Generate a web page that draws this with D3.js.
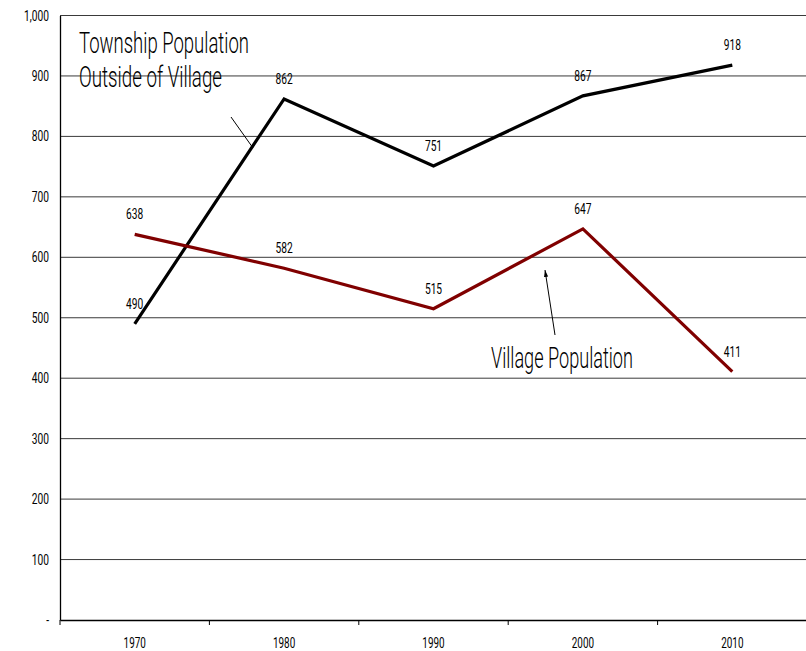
<!DOCTYPE html>
<html>
<head>
<meta charset="utf-8">
<script src="https://cdn.jsdelivr.net/npm/d3@7"></script>
<style>
  body { margin: 0; background: #fff; }
  svg text { font-family: Roboto, "DejaVu Sans", sans-serif; font-weight: 400; fill: #000; }
  svg text.note { font-weight: 300; }
</style>
</head>
<body>
<svg width="806" height="651"></svg>
<script>
const years = ["1970", "1980", "1990", "2000", "2010"];
const township = [490, 862, 751, 867, 918];
const village = [638, 582, 515, 647, 411];
const yTicks = [0, 100, 200, 300, 400, 500, 600, 700, 800, 900, 1000];

const svg = d3.select("svg");
const width = +svg.attr("width");
const height = +svg.attr("height");
const margin = {top: 15.5, right: 0, left: 60, bottom: 31};
const innerWidth = width - margin.left - margin.right;
const innerHeight = height - margin.top - margin.bottom;

// squeeze the glyphs so they look like the narrow font of the original
function narrow(sel, factor) {
  sel.each(function() {
    const w = this.getComputedTextLength();
    d3.select(this)
      .attr("textLength", w * factor)
      .attr("lengthAdjust", "spacingAndGlyphs");
  });
}

const xScale = d3.scaleBand()
  .domain(years)
  .range([0, innerWidth + 1]);

const yScale = d3.scaleLinear()
  .domain([0, 1000])
  .range([innerHeight, 0]);

const g = svg.append("g")
  .attr("transform", `translate(${margin.left}, ${margin.top})`);

// gridlines
g.selectAll(".grid").data(yTicks.filter(d => d > 0))
  .enter().append("line")
    .attr("x1", 0)
    .attr("x2", innerWidth)
    .attr("y1", d => yScale(d))
    .attr("y2", d => yScale(d))
    .attr("stroke", "#3a3a3a")
    .attr("stroke-width", 1);

// y axis
const yAxis = g.append("g")
  .call(d3.axisLeft(yScale)
    .tickValues(yTicks)
    .tickSize(0)
    .tickPadding(11)
    .tickFormat(d => d === 0 ? "-" : d3.format(",")(d)));
yAxis.select(".domain").attr("stroke", "#000").attr("stroke-width", 1.3);
yAxis.selectAll("text")
  .attr("font-size", 15)
  .attr("font-family", null)
  .attr("dy", "0.3em")
  .call(narrow, 0.68);

// x axis
const xAxis = g.append("g")
  .attr("transform", `translate(0, ${innerHeight})`)
  .call(d3.axisBottom(xScale).tickSize(0));
xAxis.select(".domain").attr("stroke", "#000").attr("stroke-width", 1.3);
xAxis.selectAll("text")
  .attr("font-size", 15.5)
  .attr("font-family", null)
  .attr("y", 27.5)
  .attr("dy", null)
  .call(narrow, 0.64);

// tick marks between categories
g.selectAll(".xtick").data(years)
  .enter().append("line")
    .attr("x1", d => xScale(d))
    .attr("x2", d => xScale(d))
    .attr("y1", innerHeight)
    .attr("y2", innerHeight + 5)
    .attr("stroke", "#000");

const xPos = (d, i) => xScale(years[i]) + xScale.bandwidth() / 2;

const line = d3.line()
  .x(xPos)
  .y(d => yScale(d));

const series = [
  {values: township, color: "#000000"},
  {values: village, color: "#800000"}
];

series.forEach(s => {
  g.append("path")
    .datum(s.values)
    .attr("fill", "none")
    .attr("stroke", s.color)
    .attr("stroke-width", 3.2)
    .attr("stroke-linejoin", "miter")
    .attr("d", line);

  g.selectAll(null).data(s.values)
    .enter().append("text")
      .attr("x", xPos)
      .attr("y", d => yScale(d) - 15)
      .attr("text-anchor", "middle")
      .attr("font-size", 15)
      .text(d => d)
      .call(narrow, 0.68);
});

// annotations
svg.append("defs").append("marker")
  .attr("id", "arrow")
  .attr("viewBox", "0 0 10 10")
  .attr("refX", 10)
  .attr("refY", 5)
  .attr("markerWidth", 7)
  .attr("markerHeight", 7)
  .attr("orient", "auto")
  .append("path")
    .attr("d", "M0,2 L10,5 L0,8 Z")
    .attr("fill", "#000");

const note = (x, y, txt, w) => svg.append("text")
  .attr("class", "note")
  .attr("x", x)
  .attr("y", y)
  .attr("font-size", 29)
  .attr("textLength", w)
  .attr("lengthAdjust", "spacingAndGlyphs")
  .text(txt);

note(79, 53, "Township Population", 170);
note(79, 87, "Outside of Village", 143);
svg.append("line")
  .attr("x1", 231).attr("y1", 117)
  .attr("x2", 253).attr("y2", 148)
  .attr("stroke", "#000").attr("stroke-width", 1);

note(491, 368, "Village Population", 142);
svg.append("line")
  .attr("x1", 555).attr("y1", 335)
  .attr("x2", 545).attr("y2", 270)
  .attr("stroke", "#000").attr("stroke-width", 1)
  .attr("marker-end", "url(#arrow)");
</script>
</body>
</html>
